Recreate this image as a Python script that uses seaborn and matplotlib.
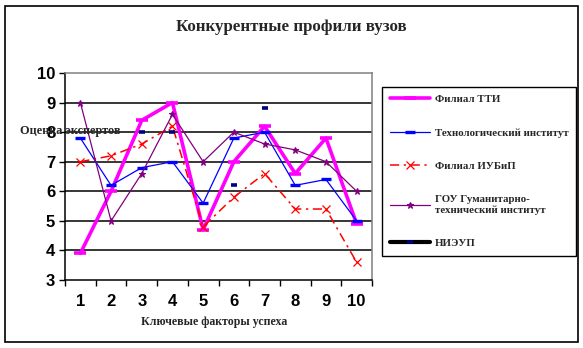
import numpy as np
import pandas as pd
import matplotlib
matplotlib.use("Agg")
import matplotlib.pyplot as plt
from matplotlib.patches import Rectangle
from matplotlib.lines import Line2D
from matplotlib.ticker import MultipleLocator, FixedLocator
import seaborn as sns

sns.set_theme(style="white")
plt.rcParams["font.family"] = ["Liberation Serif", "DejaVu Serif"]

# Key success factors 1..10
factors = [1, 2, 3, 4, 5, 6, 7, 8, 9, 10]

tti = [3.9, 6.0, 8.4, 9.0, 4.7, 7.0, 8.2, 6.6, 7.8, 4.9]
tech_inst = [7.8, 6.2, 6.8, 7.0, 5.6, 7.8, 8.0, 6.2, 6.4, 5.0]
iubip = [7.0, 7.2, 7.6, 8.2, 4.8, 5.8, 6.6, 5.4, 5.4, 3.6]
gou = [9.0, 5.0, 6.6, 8.6, 7.0, 8.0, 7.6, 7.4, 7.0, 6.0]
nieup = [np.nan, np.nan, 8.0, 8.0, np.nan, 6.2, 8.8, np.nan, np.nan, np.nan]

series_names = [
    "Филиал ТТИ",
    "Технологический институт",
    "Филиал ИУБиП",
    "ГОУ Гуманитарно-\nтехнический институт",
    "НИЭУП",
]
series_values = [tti, tech_inst, iubip, gou, nieup]

styles = [
    dict(color="#ff00ff", lw=2.6, ls="-", marker="_", ms=8, mew=2.6, mfc="#ff00ff", mec="#ff00ff"),
    dict(color="#0000ff", lw=0.9, ls="-", marker="_", ms=7, mew=2.4, mfc="#0000ff", mec="#0000ff"),
    dict(color="#ff0000", lw=1.1, ls=(0, (6, 3, 1.5, 3)), marker="x", ms=6, mew=0.9, mfc="#ff0000", mec="#ff0000"),
    dict(color="#800080", lw=0.9, ls="-", marker="*", ms=5, mew=0.8, mfc="#800080", mec="#800080"),
    dict(color="#000000", lw=3.0, ls="-", marker="_", ms=5, mew=2.6, mfc="#000080", mec="#000080"),
]
# НИЭУП shows only its point marks inside the plot
plot_line = [True, True, True, True, False]

fig = plt.figure(figsize=(5.83, 3.48), dpi=100)
fig.patch.set_facecolor("white")
ax = fig.add_axes([65 / 583, 1 - 280 / 348, (372 - 65) / 583, (280 - 73) / 348])

# gridlines under the series
for yv in range(4, 10):
    ax.axhline(yv, color="black", lw=1.1, zorder=0.5)

for name, vals, st, show_line in zip(series_names, series_values, styles, plot_line):
    df = pd.DataFrame({"factor": factors, "score": vals})
    df["run"] = df["score"].isna().cumsum()
    df = df.dropna()
    sns.lineplot(data=df, x="factor", y="score", units="run", estimator=None, ax=ax,
                 color=st["color"], linewidth=st["lw"] if show_line else 0,
                 linestyle=st["ls"] if show_line else "None", marker=st["marker"],
                 markersize=st["ms"], markeredgewidth=st["mew"],
                 markerfacecolor=st["mfc"], markeredgecolor=st["mec"],
                 sort=False, zorder=3)

ax.set_xlim(0.5, 10.5)
ax.set_ylim(3, 10)
ax.xaxis.set_major_locator(FixedLocator(factors))
ax.xaxis.set_minor_locator(FixedLocator(np.arange(0.5, 11, 1.0)))
ax.yaxis.set_major_locator(MultipleLocator(1))
ax.tick_params(axis="x", which="major", length=0, pad=10)
ax.tick_params(axis="x", which="minor", length=4, width=1, color="black", direction="out", bottom=True)
ax.tick_params(axis="y", which="major", length=4, width=1, color="black", direction="out", left=True, pad=3)
for lab in ax.get_xticklabels() + ax.get_yticklabels():
    lab.set_fontfamily("Liberation Sans")
    lab.set_fontweight("bold")
    lab.set_fontsize(12)
    lab.set_color("black")

for side in ["left", "bottom"]:
    ax.spines[side].set_color("black")
    ax.spines[side].set_linewidth(1.1)
for side in ["top", "right"]:
    ax.spines[side].set_color("#808080")
    ax.spines[side].set_linewidth(1.1)

ax.set_xlabel("")
ax.set_ylabel("")
if ax.get_legend():
    ax.get_legend().remove()

fig.text(0.5, 1 - 27 / 348, "Конкурентные профили вузов", ha="center", va="center",
         fontsize=12.2, fontweight="bold")
fig.text(20 / 583, 1 - 131 / 348, "Оценка экспертов", ha="left", va="center",
         fontsize=8.8, fontweight="bold", zorder=5)
fig.text(214 / 583, 1 - 322 / 348, "Ключевые факторы успеха", ha="center", va="center",
         fontsize=8.6, fontweight="bold")

# legend entries mirror the series styles
handles = [Line2D([], [], color=st["color"], lw=st["lw"], ls=st["ls"],
                  marker=st["marker"], ms=st["ms"], mew=st["mew"],
                  mfc=st["mfc"], mec=st["mec"]) for st in styles]
leg = fig.legend(handles, series_names, loc="upper left",
                 bbox_to_anchor=(382 / 583, 1 - 87 / 348),
                 frameon=True, fancybox=False, framealpha=1, edgecolor="black",
                 prop={"family": "Liberation Serif", "weight": "bold", "size": 7.8},
                 labelspacing=2.2, handlelength=3.7, handletextpad=0.45,
                 borderpad=0.7, borderaxespad=0)
leg.get_frame().set_linewidth(1.0)

# outer chart frame
fig.add_artist(Rectangle((5 / 583, 6 / 348), 573 / 583, 336 / 348, transform=fig.transFigure,
                         fill=False, edgecolor="black", lw=1.2))

fig.savefig("out.png", dpi=100)
